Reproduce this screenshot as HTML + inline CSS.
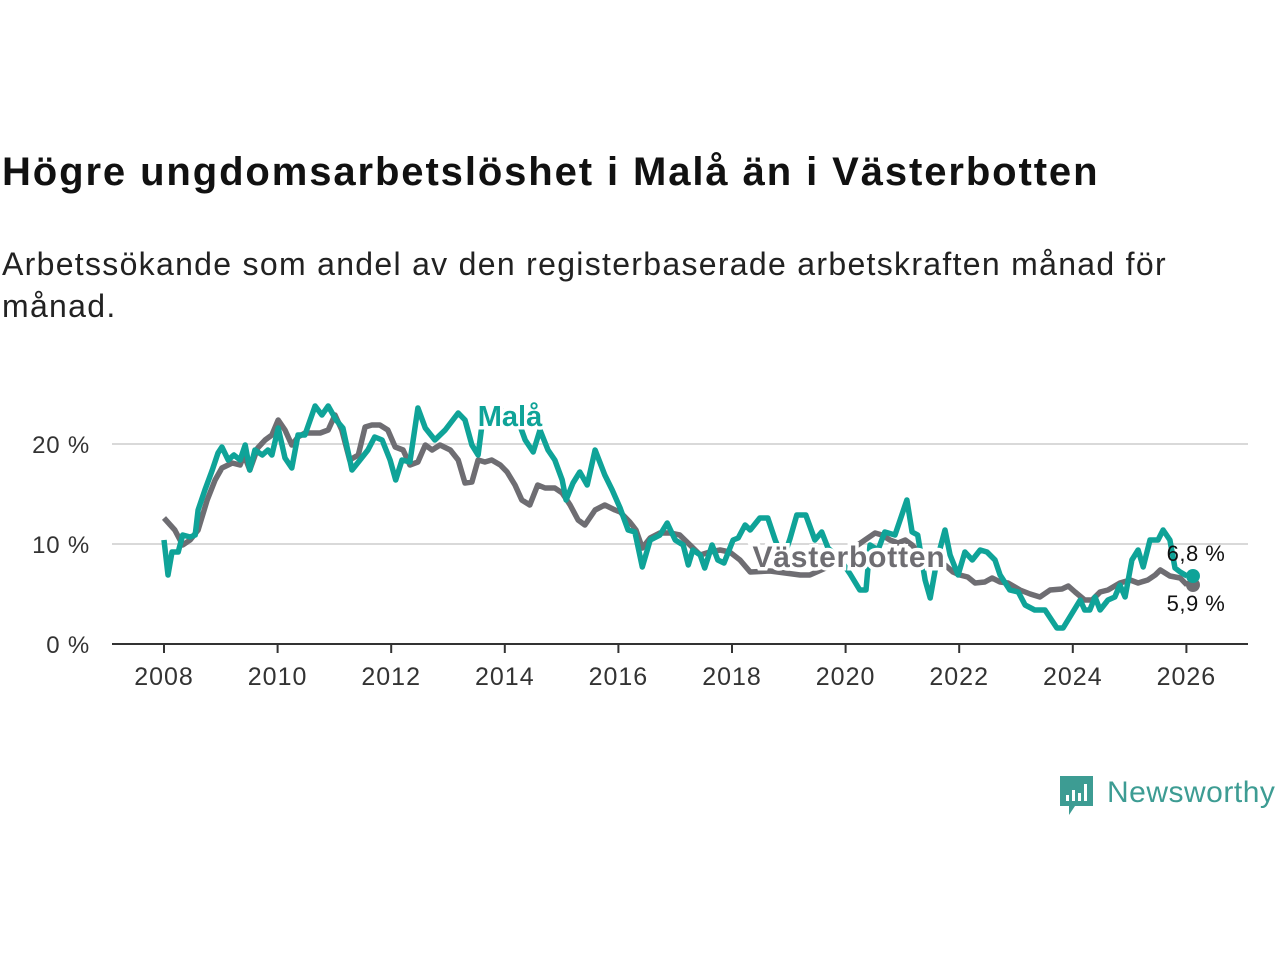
<!DOCTYPE html>
<html><head><meta charset="utf-8"><style>
body{margin:0;width:1280px;height:960px;background:#fff;font-family:"Liberation Sans",sans-serif;overflow:hidden;position:relative}
h1{position:absolute;left:2px;top:150px;margin:0;font-size:40px;font-weight:bold;color:#111;letter-spacing:1.9px}
p.sub{position:absolute;left:2px;top:243px;margin:0;font-size:32px;line-height:42px;color:#222;width:1230px;letter-spacing:1.3px}
svg{position:absolute;left:0;top:0}
</style></head><body>
<h1>Högre ungdomsarbetslöshet i Malå än i Västerbotten</h1>
<p class="sub">Arbetssökande som andel av den registerbaserade arbetskraften månad för månad.</p>
<svg id="chart" width="1280" height="960"></svg>
<script>
const malaYears=[2008,2008.07,2008.14,2008.25,2008.33,2008.46,2008.55,2008.6,2008.72,2008.85,2008.95,2009.02,2009.13,2009.23,2009.34,2009.43,2009.51,2009.6,2009.73,2009.83,2009.9,2010.01,2010.13,2010.25,2010.36,2010.48,2010.66,2010.78,2010.89,2011.03,2011.15,2011.31,2011.45,2011.59,2011.71,2011.84,2011.98,2012.08,2012.19,2012.33,2012.47,2012.6,2012.77,2012.95,2013.18,2013.3,2013.42,2013.53,2013.6,2013.92,2014.23,2014.36,2014.5,2014.62,2014.76,2014.88,2015.01,2015.08,2015.2,2015.32,2015.45,2015.59,2015.76,2015.89,2016.03,2016.17,2016.29,2016.42,2016.56,2016.73,2016.86,2017,2017.14,2017.23,2017.31,2017.44,2017.52,2017.65,2017.75,2017.86,2018.02,2018.11,2018.23,2018.32,2018.49,2018.63,2018.76,2018.9,2019.02,2019.14,2019.3,2019.46,2019.58,2019.69,2019.9,2020.08,2020.25,2020.36,2020.43,2020.57,2020.69,2020.87,2020.96,2021.08,2021.17,2021.27,2021.4,2021.49,2021.61,2021.75,2021.84,2021.98,2022.1,2022.23,2022.37,2022.49,2022.63,2022.72,2022.89,2023.04,2023.16,2023.33,2023.51,2023.72,2023.83,2024.13,2024.21,2024.3,2024.39,2024.48,2024.62,2024.74,2024.83,2024.92,2025.04,2025.15,2025.24,2025.36,2025.5,2025.59,2025.71,2025.8,2025.89,2026.01];
const malaValues=[10.4,6.9,9.2,9.2,10.9,10.7,10.9,13.4,15.4,17.4,19.1,19.7,18.4,18.9,18.4,19.9,17.4,19.4,18.9,19.4,18.9,21.6,18.6,17.6,20.9,20.9,23.8,22.9,23.8,22.4,21.6,17.4,18.4,19.4,20.7,20.4,18.4,16.4,18.4,18.2,23.6,21.6,20.4,21.4,23.1,22.4,19.9,18.9,22,23.4,22.4,20.4,19.2,21.4,19.4,18.4,16.4,14.4,16.1,17.2,15.9,19.4,16.9,15.4,13.6,11.4,11.2,7.7,10.4,10.9,12.1,10.4,9.9,7.9,9.4,8.9,7.6,9.9,8.4,8.1,10.4,10.6,11.9,11.4,12.6,12.6,10.4,8.5,10.5,12.9,12.9,10.4,11.2,9.6,8.5,7.0,5.4,5.4,9.9,9.4,11.2,10.9,12.4,14.4,11.2,10.9,6.4,4.6,8.4,11.4,8.9,6.9,9.2,8.4,9.4,9.2,8.4,6.9,5.4,5.2,3.9,3.4,3.4,1.6,1.6,4.4,3.4,3.4,4.7,3.4,4.4,4.7,5.9,4.7,8.4,9.4,7.7,10.4,10.4,11.4,10.4,7.6,7.2,6.8];
const vbYears=[2008,2008.19,2008.33,2008.46,2008.6,2008.76,2008.9,2009.02,2009.2,2009.34,2009.41,2009.51,2009.65,2009.78,2009.9,2010.01,2010.13,2010.25,2010.36,2010.48,2010.75,2010.89,2011.01,2011.13,2011.27,2011.42,2011.54,2011.66,2011.8,2011.94,2012.07,2012.21,2012.33,2012.47,2012.6,2012.72,2012.86,2013.04,2013.18,2013.3,2013.42,2013.53,2013.65,2013.77,2013.92,2014.04,2014.18,2014.3,2014.44,2014.58,2014.71,2014.88,2015.01,2015.15,2015.29,2015.41,2015.59,2015.76,2015.94,2016.03,2016.2,2016.31,2016.42,2016.56,2016.73,2016.91,2017.08,2017.26,2017.44,2017.61,2017.79,2017.96,2018.14,2018.32,2018.67,2019.2,2019.37,2019.73,2019.99,2020.34,2020.52,2020.64,2020.78,2020.92,2021.05,2021.17,2021.31,2021.75,2021.89,2022.01,2022.15,2022.28,2022.45,2022.58,2022.72,2022.86,2022.98,2023.07,2023.25,2023.42,2023.6,2023.81,2023.92,2024.04,2024.21,2024.34,2024.48,2024.62,2024.83,2025.01,2025.15,2025.32,2025.45,2025.54,2025.71,2025.89,2026.01];
const vbValues=[12.6,11.4,9.9,10.4,11.4,14.4,16.4,17.6,18.1,17.9,18.9,17.4,19.6,20.4,20.9,22.4,21.4,19.9,20.7,21.1,21.1,21.4,22.9,21.4,18.4,18.9,21.7,21.9,21.9,21.4,19.7,19.4,17.9,18.2,19.9,19.4,19.9,19.4,18.4,16.1,16.2,18.4,18.2,18.4,17.9,17.2,15.9,14.4,13.9,15.9,15.6,15.6,15.1,13.9,12.4,11.9,13.4,13.9,13.4,13.2,12.2,11.4,9.6,10.6,11.1,11.1,10.9,9.9,8.9,9.2,9.4,9.2,8.4,7.2,7.3,6.9,6.9,7.8,9.0,10.4,11.1,10.9,10.4,10.1,10.4,9.9,9.0,7.9,7.2,6.9,6.7,6.1,6.2,6.6,6.2,6.1,5.7,5.4,5.0,4.7,5.4,5.5,5.8,5.2,4.4,4.4,5.2,5.4,6.1,6.4,6.1,6.4,6.9,7.4,6.8,6.6,5.9];
const yTicks=[0,10,20];
const yTickLabels=["0 %","10 %","20 %"];
const xTicks=[2008,2010,2012,2014,2016,2018,2020,2022,2024,2026];

const NS="http://www.w3.org/2000/svg";
const svg=document.getElementById('chart');
const X=y=>164+(y-2008)*56.8;
const Y=v=>644-v*10;
function el(t,a,txt){const e=document.createElementNS(NS,t);for(const k in a)e.setAttribute(k,a[k]);if(txt!==undefined)e.textContent=txt;svg.appendChild(e);return e;}

yTicks.forEach((t,i)=>{
  if(t>0){const g=el('line',{x1:112,x2:1248,y1:Y(t),y2:Y(t),stroke:'#d9d9d9','stroke-width':2});
  
  }
  const l=el('text',{x:90,y:Y(t)+9,'text-anchor':'end','font-size':24,'letter-spacing':0.8,fill:'#333'},yTickLabels[i]);
  
  
});
const base=el('line',{x1:112,x2:1248,y1:644,y2:644,stroke:'#333','stroke-width':2});


xTicks.forEach(t=>{
  const tk=el('line',{x1:X(t),x2:X(t),y1:644,y2:653,stroke:'#333','stroke-width':2});
  
  
  const l=el('text',{x:X(t),y:685,'text-anchor':'middle','font-size':25,'letter-spacing':1,fill:'#333'},t);
  
  
});
function path(xs,vs){return xs.map((x,i)=>(i?'L':'M')+X(x).toFixed(1)+','+Y(vs[i]).toFixed(1)).join('');}
const vb=el('path',{d:path(vbYears,vbValues),fill:'none',stroke:'#6e6d72','stroke-width':5.5,'stroke-linejoin':'round'});


const ml=el('path',{d:path(malaYears,malaValues),fill:'none',stroke:'#0fa398','stroke-width':5.5,'stroke-linejoin':'round'});


const d1=el('circle',{cx:X(vbYears[vbYears.length-1])+6,cy:Y(vbValues[vbValues.length-1]),r:7,fill:'#6e6d72'});


const d2=el('circle',{cx:X(malaYears[malaYears.length-1])+6,cy:Y(malaValues[malaValues.length-1]),r:7,fill:'#0fa398'});


const e1=el('text',{x:1196,y:561,'text-anchor':'middle','font-size':22,'letter-spacing':0.5,fill:'#111'},'6,8 %');


const e2=el('text',{x:1196,y:611,'text-anchor':'middle','font-size':22,'letter-spacing':0.5,fill:'#111'},'5,9 %');


const lm=el('text',{x:510,y:426,'text-anchor':'middle','font-size':29,'font-weight':'bold',fill:'#0fa398',stroke:'#fff','stroke-width':7,'paint-order':'stroke'},'Malå');


const lv=el('text',{x:849,y:567,'text-anchor':'middle','font-size':30,'letter-spacing':0.8,'font-weight':'bold',fill:'#6e6d72',stroke:'#fff','stroke-width':7,'paint-order':'stroke'},'Västerbotten');


</script>
<svg width="1280" height="960" style="pointer-events:none">
<path d="M1060 776h33v30h-18l-6 9v-9h-9z" fill="#3d9c93"/>
<rect x="1066" y="795" width="3" height="6" fill="#fff"/><rect x="1072" y="790" width="3" height="11" fill="#fff"/><rect x="1078" y="793" width="3" height="8" fill="#fff"/><rect x="1084" y="784" width="3" height="17" fill="#fff"/>
<text x="1107" y="802" font-size="30" letter-spacing="0.5" fill="#3d9c93" font-family="Liberation Sans, sans-serif">Newsworthy</text>
</svg>
</body></html>
